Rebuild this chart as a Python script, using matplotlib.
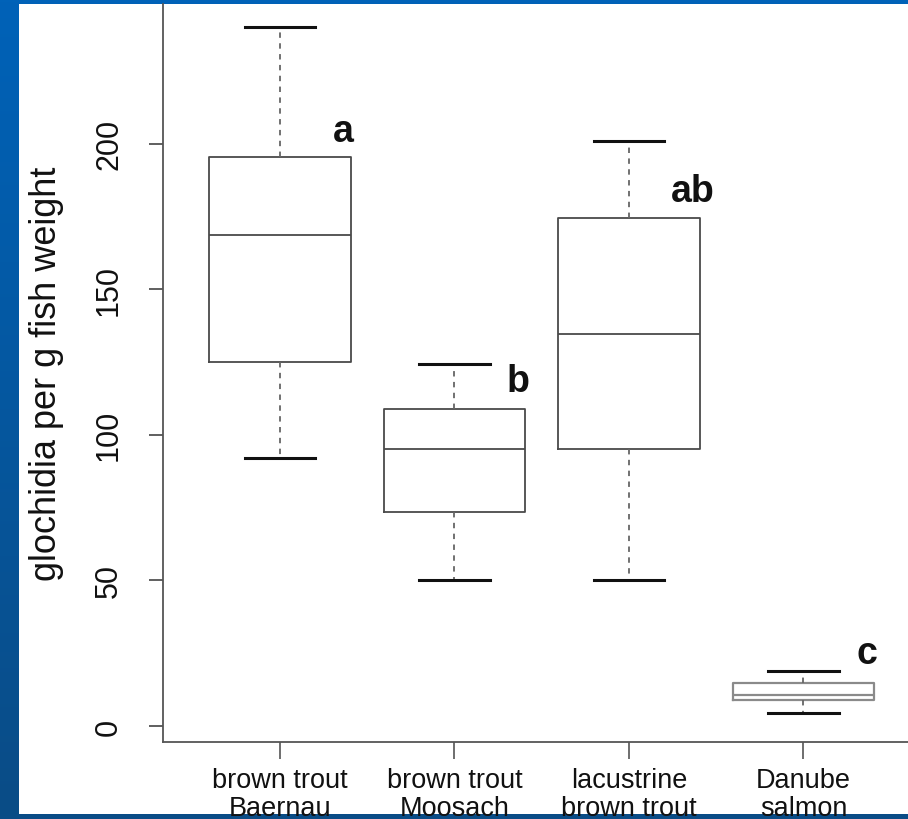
import numpy as np
import matplotlib
matplotlib.use("Agg")
import matplotlib.pyplot as plt
from matplotlib.patches import Rectangle

plt.rcParams["font.family"] = ["Liberation Sans", "DejaVu Sans"]

# glochidia per g fish weight, five-number summaries per host
groups = ["brown trout\nBaernau", "brown trout\nMoosach",
          "lacustrine\nbrown trout", "Danube\nsalmon"]
whislo = [92, 50, 50, 4.5]
q1 = [125, 73.5, 95, 9]
med = [168.5, 95, 134.5, 10.5]
q3 = [195.5, 109, 174.5, 14.8]
whishi = [240, 124.5, 201, 19]
letters = ["a", "b", "ab", "c"]
letter_y = [201, 115, 180.5, 21.5]

W, H = 908, 820
fig = plt.figure(figsize=(W / 100, H / 100), dpi=100)

# slide background: blue gradient frame with white panel
bg = fig.add_axes([0, 0, 1, 1], zorder=-10)
grad = np.linspace(0, 1, 256)[:, None]
cmap = matplotlib.colors.LinearSegmentedColormap.from_list("slide", ["#0062b8", "#0a4c86"])
bg.imshow(grad, aspect="auto", cmap=cmap, extent=[0, 1, 0, 1], origin="upper")
bg.add_patch(Rectangle((19 / W, 1 - 815 / H), 1, (815 - 5) / H, color="white", lw=0))
bg.set_xlim(0, 1); bg.set_ylim(0, 1)
bg.axis("off")

ax = fig.add_axes([163 / W, 1 - 743 / H, (W - 163) / W, (743 - 5) / H])
ax.patch.set_alpha(0)

pos = np.arange(1, len(groups) + 1)
stats = [dict(whislo=a, q1=b, med=c, q3=d, whishi=e, fliers=[])
         for a, b, c, d, e in zip(whislo, q1, med, q3, whishi)]
bp = ax.bxp(stats, positions=pos, widths=0.81, showfliers=False,
            boxprops=dict(color="#4a4a4a", lw=1.3),
            medianprops=dict(color="#4a4a4a", lw=1.3),
            whiskerprops=dict(color="#666666", lw=1.3, ls=(0, (3, 3))),
            capprops=dict(color="#111111", lw=2.2),
            capwidths=0.405)
# Danube salmon box is drawn lighter
for key in ("boxes", "medians"):
    bp[key][3].set_color("#8a8a8a")
    bp[key][3].set_linewidth(1.6)

for x, s, y in zip(pos, letters, letter_y):
    ax.text(x + 0.365, y, s, ha="center", va="baseline",
            fontsize=27, fontweight="bold", color="#111111")

ax.set_xlim(0.3295, 4.599)
ax.set_ylim(-5.5, 248)
ax.set_yticks([0, 50, 100, 150, 200])
ax.set_xticks(pos)
ax.set_xticklabels(groups, fontsize=19.5, linespacing=1.1)
for lab in ax.get_yticklabels():
    lab.set_rotation(90)
    lab.set_va("center")
ax.tick_params(axis="y", labelsize=22, length=10, width=1.2, color="#444444",
               pad=18, labelcolor="#111111")
ax.tick_params(axis="x", length=12, width=1.2, color="#555555", pad=6,
               labelcolor="#111111")
ax.set_ylabel("glochidia per g fish weight", fontsize=26, labelpad=22, color="#111111")

for side in ("top", "right"):
    ax.spines[side].set_visible(False)
for side in ("left", "bottom"):
    ax.spines[side].set_color("#555555")
    ax.spines[side].set_linewidth(1.3)

fig.savefig("out.png", dpi=100)
